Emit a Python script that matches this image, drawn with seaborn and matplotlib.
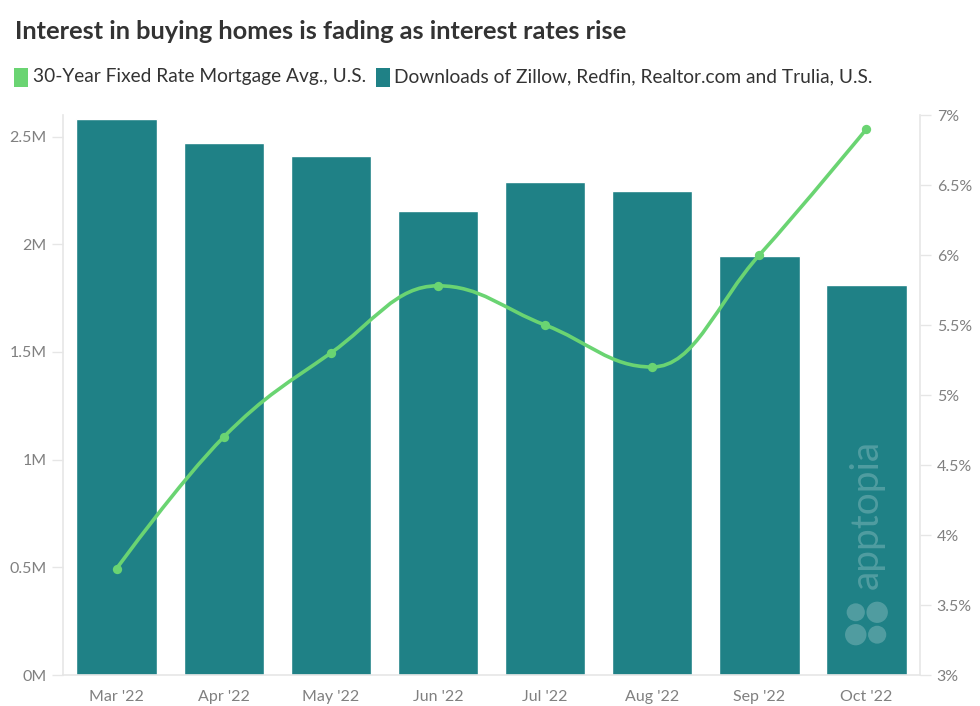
import numpy as np
import pandas as pd
import matplotlib.pyplot as plt
from matplotlib.path import Path
from matplotlib.patches import PathPatch, Ellipse
import seaborn as sns

months = ["Mar '22", "Apr '22", "May '22", "Jun '22", "Jul '22", "Aug '22", "Sep '22", "Oct '22"]
downloads = [2.58e6, 2.47e6, 2.41e6, 2.155e6, 2.29e6, 2.245e6, 1.945e6, 1.81e6]
mortgage_rate = [3.76, 4.70, 5.30, 5.78, 5.50, 5.20, 6.00, 6.90]

left_ticks = [0, 0.5e6, 1e6, 1.5e6, 2e6, 2.5e6]
left_labels = ['0M', '0.5M', '1M', '1.5M', '2M', '2.5M']
right_ticks = [3, 3.5, 4, 4.5, 5, 5.5, 6, 6.5, 7]
right_labels = ['3%', '3.5%', '4%', '4.5%', '5%', '5.5%', '6%', '6.5%', '7%']

bar_color = '#1f8186'
line_color = '#6ad472'
axis_color = '#e6e6e6'
label_color = '#808080'

sns.set_style('white')
plt.rcParams['font.family'] = ['Lato', 'DejaVu Sans']

df = pd.DataFrame({'month': months, 'downloads': downloads, 'rate': mortgage_rate})

fig = plt.figure(figsize=(9.8, 7.06), dpi=100)
ax = fig.add_axes([0.0643, 0.0439, 0.8745, 0.7932])

sns.barplot(data=df, x='month', y='downloads', color=bar_color, saturation=1,
            width=0.75, ax=ax, zorder=2)
ax.set_xlim(-0.5, len(months) - 0.5)
ax.set_ylim(0, 2.6e6)
ax.set_yticks(left_ticks)
ax.set_yticklabels(left_labels)
ax.set_xlabel('')
ax.set_ylabel('')

ax2 = ax.twinx()
ax2.set_ylim(3, 7)
ax2.set_yticks(right_ticks)
ax2.set_yticklabels(right_labels)


# Highcharts style spline through the rate points
def spline_path(xs, ys, smoothing=1.5):
    n = len(xs)
    denom = smoothing + 1
    lc = [(xs[i], ys[i]) for i in range(n)]
    rc = [(xs[i], ys[i]) for i in range(n)]
    for i in range(1, n - 1):
        x, y = xs[i], ys[i]
        lx0, ly0 = xs[i - 1], ys[i - 1]
        nx0, ny0 = xs[i + 1], ys[i + 1]
        lcx = (smoothing * x + lx0) / denom
        lcy = (smoothing * y + ly0) / denom
        rcx = (smoothing * x + nx0) / denom
        rcy = (smoothing * y + ny0) / denom
        corr = (rcy - lcy) * (rcx - x) / (rcx - lcx) + y - rcy
        lcy += corr
        rcy += corr
        if lcy > ly0 and lcy > y:
            lcy = max(ly0, y)
            rcy = 2 * y - lcy
        elif lcy < ly0 and lcy < y:
            lcy = min(ly0, y)
            rcy = 2 * y - lcy
        if rcy > ny0 and rcy > y:
            rcy = max(ny0, y)
            lcy = 2 * y - rcy
        elif rcy < ny0 and rcy < y:
            rcy = min(ny0, y)
            lcy = 2 * y - rcy
        lc[i] = (lcx, lcy)
        rc[i] = (rcx, rcy)
    verts = [(xs[0], ys[0])]
    codes = [Path.MOVETO]
    for i in range(1, n):
        verts += [rc[i - 1], lc[i], (xs[i], ys[i])]
        codes += [Path.CURVE4] * 3
    return Path(verts, codes)


xpos = np.arange(len(months))
curve = spline_path(list(xpos), mortgage_rate)
ax2.add_patch(PathPatch(curve, facecolor='none', edgecolor=line_color, lw=2.6,
                        capstyle='round', joinstyle='round', zorder=3))
sns.scatterplot(x=xpos, y=mortgage_rate, color=line_color, s=45, linewidth=0,
                ax=ax2, zorder=4)

for a in (ax, ax2):
    for s in a.spines.values():
        s.set_visible(False)
ax.spines['left'].set_visible(True)
ax.spines['bottom'].set_visible(True)
ax2.spines['right'].set_visible(True)
for s in (ax.spines['left'], ax.spines['bottom'], ax2.spines['right']):
    s.set_color(axis_color)
    s.set_linewidth(1.2)

ax.tick_params(axis='y', length=8, width=1, color=axis_color, labelsize=11.5,
               labelcolor=label_color, pad=4)
ax.tick_params(axis='x', length=8, width=1, color=axis_color, labelsize=11.5,
               labelcolor=label_color, pad=3)
ax2.tick_params(axis='y', length=8, width=1, color=axis_color, labelsize=11.5,
                labelcolor=label_color, pad=4)
ax.set_zorder(1)
ax2.set_zorder(2)
ax2.patch.set_visible(False)

# apptopia watermark
ax.text(7, 0.286, 'apptopia', transform=ax.get_xaxis_transform(), rotation=90,
        ha='center', va='center', fontsize=28, color='white', alpha=0.22, zorder=5)
for dx, dy, w, h in [(-0.1, 0.112, 0.17, 0.032), (0.1, 0.112, 0.2, 0.038),
                     (-0.1, 0.072, 0.2, 0.038), (0.1, 0.072, 0.17, 0.032)]:
    ax.add_patch(Ellipse((7 + dx, dy), w, h, transform=ax.get_xaxis_transform(),
                         facecolor='white', edgecolor='none', alpha=0.22, zorder=5))

fig.text(0.015, 0.955, 'Interest in buying homes is fading as interest rates rise',
         fontsize=18.3, fontweight='bold', color='#333333', ha='left', va='center')

# legend
fig.patches.append(plt.Rectangle((0.0143, 0.877), 0.0143, 0.027, transform=fig.transFigure,
                                 facecolor=line_color, edgecolor='none'))
fig.text(0.034, 0.891, '30-Year Fixed Rate Mortgage Avg., U.S.', fontsize=13.8,
         color='#333333', ha='left', va='center')
fig.patches.append(plt.Rectangle((0.3837, 0.877), 0.0143, 0.027, transform=fig.transFigure,
                                 facecolor=bar_color, edgecolor='none'))
fig.text(0.402, 0.891, 'Downloads of Zillow, Redfin, Realtor.com and Trulia, U.S.',
         fontsize=13.8, color='#333333', ha='left', va='center')

fig.savefig('out.png', dpi=100)
